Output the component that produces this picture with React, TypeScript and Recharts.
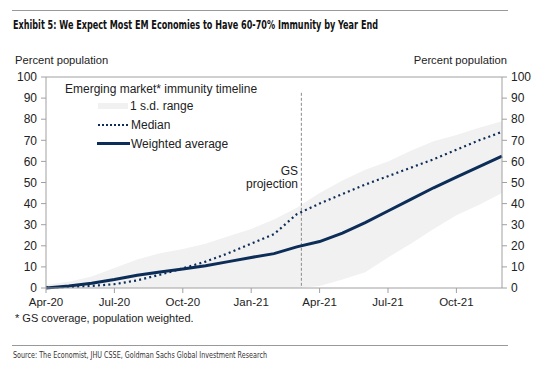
import React from 'react';
import { ComposedChart, Area, Line, XAxis, YAxis, ReferenceLine } from 'recharts';

const monthIndex = [0, 1, 2, 3, 4, 5, 6, 7, 8, 9, 10, 11, 12, 13, 14, 15, 16, 17, 18, 19, 20];
const weightedAvg = [0, 1, 2.3, 4, 6, 7.6, 9, 10.5, 12.5, 14.5, 16.3, 19.5, 22, 26, 31, 36.5, 42, 47.5, 52.5, 57.5, 62.5];
const median = [0.3, 0.5, 1, 1.8, 3.6, 6.3, 9.3, 12.5, 16.5, 21, 25.5, 35, 40, 44.5, 49, 53, 57, 61, 65.5, 70, 74];
const sdLow = [0, 0, 0, 0, 0, 0, 0, 0, 0, 0, 0, 0, 1, 4, 7.5, 14.5, 21, 28, 34.5, 39.5, 45];
const sdHigh = [1.5, 3, 5.5, 9.5, 13.5, 16.5, 18.5, 21, 24.5, 28, 32.5, 38, 45, 51, 56, 60, 65, 69.5, 72.5, 76, 79];
const xTickPositions = [0, 3, 6, 9, 12, 15, 18];
const xTickLabels = ['Apr-20', 'Jul-20', 'Oct-20', 'Jan-21', 'Apr-21', 'Jul-21', 'Oct-21'];
const yTicks = [0, 10, 20, 30, 40, 50, 60, 70, 80, 90, 100];
const projectionAt = 11.2;

const data = monthIndex.map((m, i) => ({
  m,
  weighted: weightedAvg[i],
  median: median[i],
  band: [sdLow[i], sdHigh[i]],
}));

const NAVY = '#0c2d57';
const BAND = '#f1f1f1';
const AXIS = '#a0a0a0';
const FONT = '"Liberation Sans", Arial, sans-serif';
const NARROW = '"Liberation Sans Narrow", "DejaVu Sans Condensed", "Arial Narrow", sans-serif';

export default function App() {
  return (
    <div style={{ position: 'absolute', left: 0, top: 0, width: 550, height: 369, background: '#fff' }}>
      <div style={{ position: 'absolute', left: 0, top: 0 }}>
        <ComposedChart
          width={550}
          height={369}
          data={data}
          margin={{ top: 77, right: 8, left: 16, bottom: 61 }}
        >
          <XAxis
            dataKey="m"
            type="number"
            domain={[0, 20]}
            ticks={xTickPositions}
            tickFormatter={(v: number) => xTickLabels[xTickPositions.indexOf(v)] ?? ''}
            height={20}
            tickSize={5}
            tickMargin={5}
            stroke={AXIS}
            tick={{ fill: '#222', fontSize: 11.5, fontFamily: FONT }}
            interval={0}
          />
          <YAxis
            yAxisId="left"
            orientation="left"
            domain={[0, 100]}
            ticks={yTicks}
            width={30}
            tickSize={5}
            tickMargin={4}
            stroke={AXIS}
            tick={{ fill: '#222', fontSize: 12, fontFamily: FONT }}
            interval={0}
          />
          <YAxis
            yAxisId="right"
            orientation="right"
            domain={[0, 100]}
            ticks={yTicks}
            width={40}
            tickSize={5}
            tickMargin={4}
            stroke={AXIS}
            tick={{ fill: '#222', fontSize: 12, fontFamily: FONT }}
            interval={0}
          />
          <ReferenceLine yAxisId="left" y={100} stroke={AXIS} strokeWidth={1} />
          <Area
            yAxisId="left"
            dataKey="band"
            type="linear"
            stroke="none"
            fill={BAND}
            fillOpacity={1}
            isAnimationActive={false}
          />
          <ReferenceLine
            yAxisId="left"
            segment={[{ x: projectionAt, y: 92.5 }, { x: projectionAt, y: 0 }]}
            stroke="#8a8a8a"
            strokeDasharray="3 2"
            strokeWidth={1}
          />
          <Line
            yAxisId="right"
            dataKey="weighted"
            type="linear"
            stroke="none"
            strokeOpacity={0}
            dot={false}
            activeDot={false}
            legendType="none"
            isAnimationActive={false}
          />
          <Line
            yAxisId="left"
            dataKey="median"
            type="linear"
            stroke={NAVY}
            strokeWidth={2.2}
            strokeDasharray="2 3.2"
            dot={false}
            isAnimationActive={false}
          />
          <Line
            yAxisId="left"
            dataKey="weighted"
            type="linear"
            stroke={NAVY}
            strokeWidth={3}
            dot={false}
            isAnimationActive={false}
          />
        </ComposedChart>
      </div>
      <svg
        width={550}
        height={369}
        style={{ position: 'absolute', left: 0, top: 0, pointerEvents: 'none' }}
      >
        <line x1={12} y1={10.5} x2={508} y2={10.5} stroke="#999" strokeWidth={1} />
        <text
          x={13}
          y={28.5}
          fontFamily={NARROW}
          fontWeight="bold"
          fontSize={12.5}
          fill="#111"
          textLength={365}
          lengthAdjust="spacingAndGlyphs"
        >
          Exhibit 5: We Expect Most EM Economies to Have 60-70% Immunity by Year End
        </text>
        <text x={15} y={64} fontFamily={FONT} fontSize={11.2} fill="#222">Percent population</text>
        <text x={507} y={64} fontFamily={FONT} fontSize={11.2} fill="#222" textAnchor="end">Percent population</text>

        <text x={65} y={93} fontFamily={FONT} fontSize={12} fill="#222">Emerging market* immunity timeline</text>
        <rect x={98} y={103} width={30} height={6} fill={BAND} />
        <text x={130} y={110} fontFamily={FONT} fontSize={12} fill="#222">1 s.d. range</text>
        <line x1={98} y1={125} x2={128} y2={125} stroke={NAVY} strokeWidth={2} strokeDasharray="2 2" />
        <text x={131} y={129} fontFamily={FONT} fontSize={12} fill="#222">Median</text>
        <line x1={97} y1={143.5} x2={130} y2={143.5} stroke={NAVY} strokeWidth={3} />
        <text x={131} y={148} fontFamily={FONT} fontSize={12} fill="#222">Weighted average</text>

        <text x={298} y={175} fontFamily={FONT} fontSize={12} fill="#222" textAnchor="end">GS</text>
        <text x={298} y={188} fontFamily={FONT} fontSize={12} fill="#222" textAnchor="end">projection</text>

        <text x={15} y={322} fontFamily={FONT} fontSize={11} fill="#222">* GS coverage, population weighted.</text>
        <line x1={12} y1={345.5} x2={508} y2={345.5} stroke="#999" strokeWidth={1} />
        <text
          x={13}
          y={358}
          fontFamily={NARROW}
          fontSize={9}
          fill="#333"
          textLength={254}
          lengthAdjust="spacingAndGlyphs"
        >
          Source: The Economist, JHU CSSE, Goldman Sachs Global Investment Research
        </text>
      </svg>
    </div>
  );
}
